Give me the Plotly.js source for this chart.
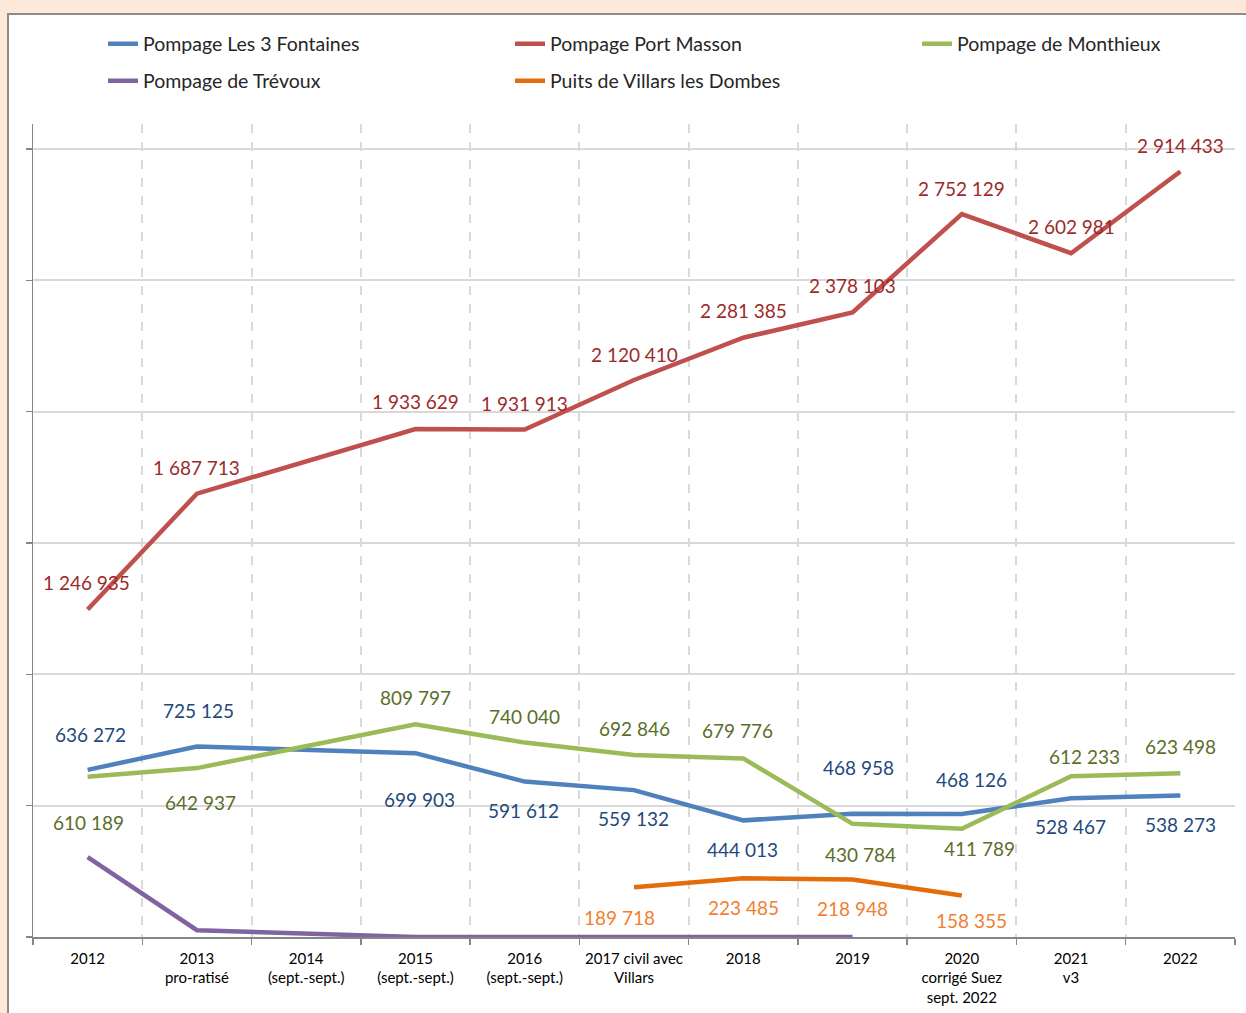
<!DOCTYPE html>
<html>
<head>
<meta charset="utf-8">
<script src="https://cdn.plot.ly/plotly-3.0.1.min.js"></script>
<style>
  html, body { margin: 0; padding: 0; background: #FDE9D9; width: 1246px; height: 1013px; overflow: hidden; }
  #frame { position: absolute; left: 7px; top: 13px; border-left: 2px solid #8C8C8C; border-top: 2px solid #8C8C8C; background: #fff; }
  #chart { width: 1237px; height: 998px; }
</style>
</head>
<body>
<div id="frame"><div id="chart"></div></div>
<script>
// ---- data ----
const categories = [
  "2012", "2013<br>pro-ratisé", "2014<br>(sept.-sept.)", "2015<br>(sept.-sept.)",
  "2016<br>(sept.-sept.)", "2017 civil avec<br>Villars", "2018", "2019",
  "2020<br>corrigé Suez<br>sept. 2022", "2021<br>v3", "2022"
];
const seriesNames = ["Pompage Les 3 Fontaines", "Pompage Port Masson", "Pompage de Monthieux", "Pompage de Trévoux", "Puits de Villars les Dombes"];
const troisFontaines = [636272, 725125, null, 699903, 591612, 559132, 444013, 468958, 468126, 528467, 538273];
const portMasson     = [1246935, 1687713, null, 1933629, 1931913, 2120410, 2281385, 2378103, 2752129, 2602981, 2914433];
const monthieux      = [610189, 642937, null, 809797, 740040, 692846, 679776, 430784, 411789, 612233, 623498];
const trevoux        = [304000, 26000, null, 0, 0, 0, 0, 0, null, null, null];
const villars        = [null, null, null, null, null, 189718, 223485, 218948, 158355, null, null];
const yTickStep = 500000;

// ---- styling ----
const lineColors  = ["#4F81BD", "#C0504D", "#9BBB59", "#8064A2", "#E46C0A"];
const labelColors = ["#1F497D", "#9C2A2A", "#5A6E2A", null, "#F07F2F"];
const FONT = "Lato, 'Open Sans', sans-serif";
// label offsets (px) : vertical (positive = above) and horizontal
const labelDy = [
  [35, 36, 0, -46, -29, -28, -29, 46, 35, -28, -29],
  [27, 26, 0, 28, 26, 26, 27, 27, 26, 27, 26],
  [-46, -34, 0, 27, 26, 27, 28, -31, -20, 20, 27],
  null,
  [0, 0, 0, 0, 0, -30, -29, -29, -25, 0, 0]
];
const labelDx = [
  [3, 2, 0, 4, -1, -1, -1, 6, 10, -1, 0],
  [-1, 0, 0, 0, 0, 0, 0, 0, 0, 0, 0],
  [1, 4, 0, 0, 0, 0, -6, 8, 18, 13, 0],
  null,
  [0, 0, 0, 0, 0, -15, 0, 0, 10, 0, 0]
];

const allSeries = [troisFontaines, portMasson, monthieux, trevoux, villars];

function fmt(v) {
  return String(v).replace(/\B(?=(\d{3})+(?!\d))/g, " ");
}

const legendNames = ["legend", "legend2", "legend3", "legend4", "legend5"];
const traces = allSeries.map((vals, i) => ({
  type: "scatter",
  mode: "lines",
  x: categories,
  y: vals,
  name: seriesNames[i],
  connectgaps: true,
  line: { color: lineColors[i], width: 4.5 },
  legend: legendNames[i],
  hoverinfo: "skip"
}));

const annotations = [];
allSeries.forEach((vals, i) => {
  if (!labelColors[i]) return;
  vals.forEach((v, j) => {
    if (v === null) return;
    annotations.push({
      x: j, y: v, xref: "x", yref: "y",
      text: fmt(v), showarrow: false,
      yshift: labelDy[i][j], xshift: labelDx[i][j],
      font: { family: FONT, size: 19, color: labelColors[i] }
    });
  });
});

// legend positions (plot area: left 24px, width 1202px, top 108px, height 814px)
const plotL = 24, plotW = 1202, plotT = 108, plotH = 814;
const legPos = [[94, 29], [501, 29], [908, 29], [94, 66], [501, 66]];
const legendFont = { family: FONT, size: 19.5, color: "#262626" };
const layout = {
  width: 1237, height: 998,
  margin: { l: plotL, r: 1237 - plotL - plotW, t: plotT, b: 998 - plotT - plotH },
  paper_bgcolor: "#ffffff",
  plot_bgcolor: "#ffffff",
  font: { family: FONT, color: "#000000" },
  showlegend: true,
  xaxis: {
    type: "category",
    range: [-0.5, 10.5],
    tickson: "boundaries",
    ticks: "outside", ticklen: 6, tickcolor: "#868686", tickwidth: 1.5,
    ticklabelstandoff: 7,
    showline: true, linecolor: "#868686", linewidth: 1.5,
    showgrid: true, gridcolor: "#D9D9D9", gridwidth: 2, griddash: "dash",
    tickfont: { family: FONT, size: 15, color: "#000000" },
    fixedrange: true
  },
  yaxis: {
    range: [0, 3095000],
    dtick: yTickStep, tick0: 0,
    showticklabels: false,
    ticks: "outside", ticklen: 6, tickcolor: "#868686", tickwidth: 1.5,
    showline: true, linecolor: "#868686", linewidth: 1.5,
    showgrid: true, gridcolor: "#D9D9D9", gridwidth: 2,
    zeroline: false,
    fixedrange: true
  },
  annotations: annotations
};
legendNames.forEach((ln, i) => {
  layout[ln] = {
    x: (legPos[i][0] - plotL) / plotW,
    y: 1 + (plotT - legPos[i][1]) / plotH,
    xanchor: "left", yanchor: "middle",
    orientation: "h",
    bgcolor: "rgba(0,0,0,0)",
    font: legendFont
  };
});

Plotly.newPlot("chart", traces, layout, { displayModeBar: false, staticPlot: true });
</script>
</body>
</html>
